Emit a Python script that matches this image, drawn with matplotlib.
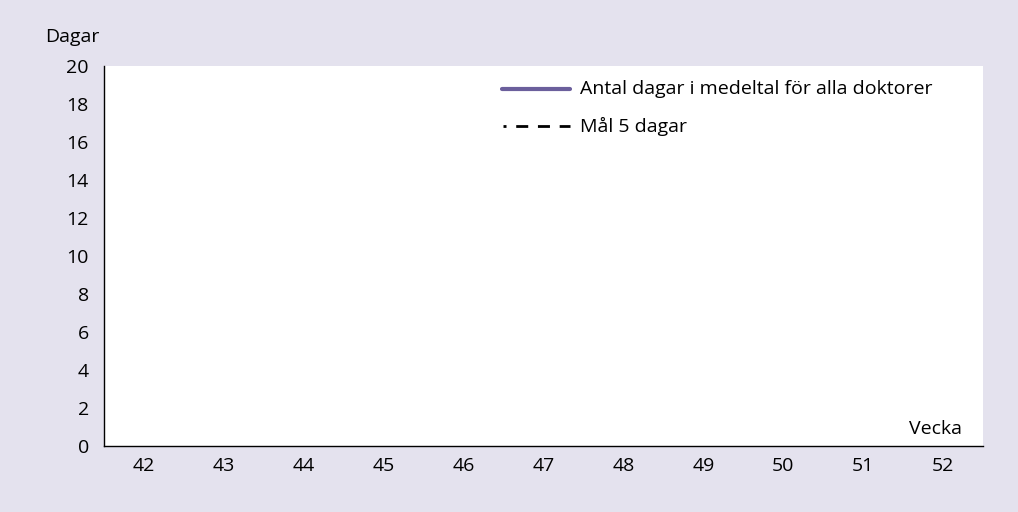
import numpy as np
import matplotlib
matplotlib.use("Agg")
import matplotlib.pyplot as plt
from matplotlib.lines import Line2D

plt.rcParams.update({
    "font.family": ["Open Sans", "DejaVu Sans"],
    "font.size": 14,
})

# Data (no values reported in the chart yet)
weeks = ["42", "43", "44", "45", "46", "47", "48", "49", "50", "51", "52"]
avg_days = [np.nan] * len(weeks)
goal_days = [np.nan] * len(weeks)
y_ticks = [0, 2, 4, 6, 8, 10, 12, 14, 16, 18, 20]

BG = "#e4e2ee"
PURPLE = "#6b5f9c"
GOAL_LS = (3.24, (4.32, 3.5))

fig = plt.figure(figsize=(10.18, 5.12), dpi=100, facecolor=BG)
ax = fig.add_axes([0.1022, 0.1289, 0.8634, 0.7421])
ax.set_facecolor("white")

x = np.arange(len(weeks))
ax.plot(x, avg_days, color=PURPLE, lw=3, solid_capstyle="round")
ax.plot(x, goal_days, color="black", lw=2, ls=GOAL_LS)

ax.set_xlim(-0.5, len(weeks) - 0.5)
ax.set_ylim(0, 20)
ax.set_xticks(x)
ax.set_xticklabels(weeks)
ax.set_yticks(y_ticks)
ax.tick_params(axis="y", length=0, pad=11)
ax.tick_params(axis="x", length=0, pad=8)

for side in ["top", "right"]:
    ax.spines[side].set_visible(False)
for side in ["left", "bottom"]:
    ax.spines[side].set_linewidth(1.0)
    ax.spines[side].set_color("black")

fig.text(72 / 1018, 1 - 37 / 512, "Dagar", ha="center", va="center")
ax.text(0.976, 0.022, "Vecka", transform=ax.transAxes, ha="right", va="bottom")

# Legend drawn as figure lines/text
fig.add_artist(Line2D([502 / 1018, 570 / 1018], [1 - 89 / 512] * 2,
                      color=PURPLE, lw=3, solid_capstyle="round"))
fig.add_artist(Line2D([503 / 1018, 570 / 1018], [1 - 126 / 512] * 2,
                      color="black", lw=2, ls=GOAL_LS))
fig.text(580 / 1018, 1 - 89 / 512, "Antal dagar i medeltal för alla doktorer",
         ha="left", va="center")
fig.text(580 / 1018, 1 - 126 / 512, "Mål 5 dagar", ha="left", va="center")

fig.savefig("out.png", dpi=100, facecolor=BG)
